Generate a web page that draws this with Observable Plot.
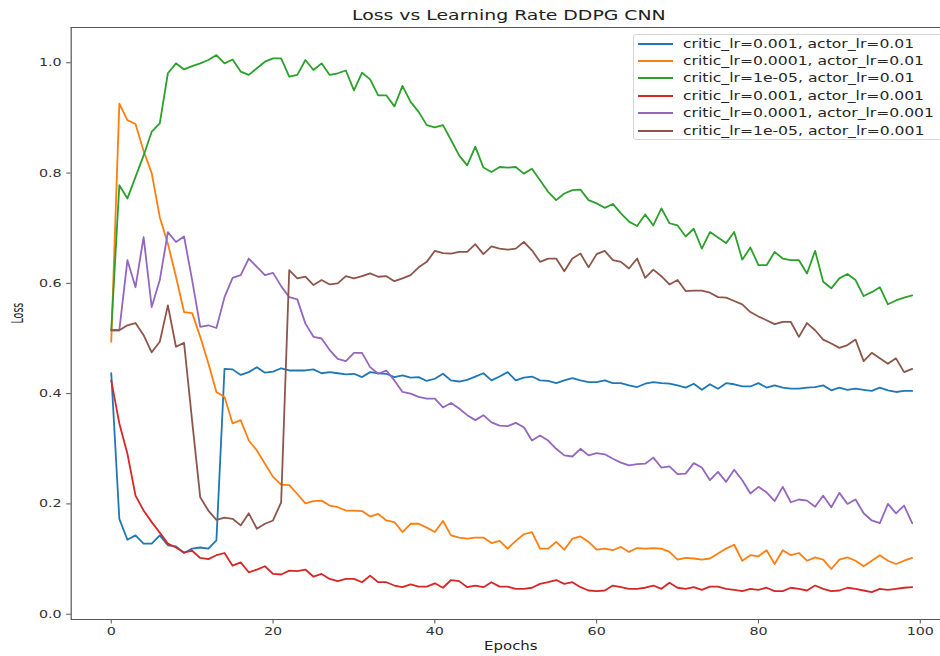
<!DOCTYPE html>
<html>
<head>
<meta charset="utf-8">
<script src="https://cdn.jsdelivr.net/npm/d3@7"></script>
<script src="https://cdn.jsdelivr.net/npm/@observablehq/plot@0.6"></script>
<style>
  html, body { margin: 0; padding: 0; background: #fff; overflow: hidden; }
  #wrap { position: relative; width: 940px; height: 656px; overflow: hidden; font-family: "DejaVu Sans", sans-serif; }
  #legend { position: absolute; left: 633px; top: 34px; width: 340px; height: 106px; box-sizing: border-box;
            border: 1px solid #d6d6d6; border-radius: 3px; background: rgba(255,255,255,0.85); padding-top: 0px; }
  .row { height: 17.4px; display: flex; align-items: center; }
  .sw { display: inline-block; width: 35px; height: 2px; margin-left: 4px; margin-right: 10px; flex: none; }
  .lab { font-size: 12px; color: #262626; white-space: nowrap; display: inline-block; transform: scaleX(1.3); transform-origin: left center; }
</style>
</head>
<body>
<div id="wrap"></div>
<script>
const epochs = d3.range(100);
const xTicks = [0, 20, 40, 60, 80, 100];
const yTicks = [0, 0.2, 0.4, 0.6, 0.8, 1.0];
const seriesNames = [
  "critic_lr=0.001, actor_lr=0.01",
  "critic_lr=0.0001, actor_lr=0.01",
  "critic_lr=1e-05, actor_lr=0.01",
  "critic_lr=0.001, actor_lr=0.001",
  "critic_lr=0.0001, actor_lr=0.001",
  "critic_lr=1e-05, actor_lr=0.001"
];
const seriesColors = ["#1f77b4", "#ff7f0e", "#2ca02c", "#d62728", "#9467bd", "#8c564b"];

const lossC001A01 = [0.437,0.173,0.135,0.143,0.128,0.128,0.143,0.125,0.123,0.111,
  0.119,0.121,0.119,0.134,0.445,0.444,0.434,0.439,0.448,0.438,
  0.440,0.446,0.442,0.442,0.442,0.444,0.437,0.439,0.437,0.435,
  0.436,0.430,0.439,0.437,0.436,0.430,0.433,0.429,0.430,0.423,
  0.427,0.436,0.424,0.422,0.425,0.431,0.437,0.424,0.431,0.439,
  0.424,0.429,0.431,0.424,0.423,0.419,0.424,0.428,0.424,0.421,
  0.421,0.424,0.419,0.419,0.415,0.412,0.418,0.421,0.419,0.418,
  0.415,0.411,0.418,0.407,0.417,0.409,0.419,0.417,0.413,0.413,
  0.419,0.411,0.415,0.411,0.409,0.409,0.411,0.412,0.415,0.406,
  0.411,0.407,0.409,0.407,0.405,0.411,0.406,0.403,0.405,0.405];
const lossC0001A01 = [0.494,0.926,0.896,0.889,0.840,0.800,0.720,0.672,0.612,0.548,
  0.546,0.503,0.455,0.403,0.394,0.346,0.352,0.315,0.297,0.273,
  0.249,0.235,0.234,0.218,0.201,0.205,0.206,0.197,0.194,0.188,
  0.188,0.187,0.177,0.182,0.170,0.167,0.149,0.164,0.164,0.157,
  0.149,0.169,0.143,0.139,0.137,0.139,0.139,0.129,0.133,0.119,
  0.133,0.145,0.149,0.119,0.119,0.131,0.117,0.137,0.141,0.131,
  0.117,0.119,0.116,0.122,0.113,0.120,0.119,0.120,0.119,0.113,
  0.099,0.102,0.101,0.099,0.101,0.110,0.119,0.126,0.097,0.107,
  0.105,0.116,0.091,0.116,0.107,0.111,0.097,0.103,0.099,0.082,
  0.099,0.103,0.097,0.087,0.097,0.107,0.097,0.091,0.097,0.102];
const lossC1e5A01 = [0.515,0.778,0.754,0.793,0.832,0.875,0.890,0.981,0.999,0.988,
  0.994,0.999,1.005,1.014,0.999,1.006,0.984,0.978,0.990,1.002,
  1.008,1.008,0.975,0.978,1.005,0.987,0.999,0.978,0.981,0.986,
  0.950,0.982,0.970,0.941,0.941,0.921,0.958,0.929,0.911,0.887,
  0.883,0.887,0.860,0.832,0.814,0.848,0.810,0.802,0.811,0.810,
  0.811,0.799,0.808,0.787,0.766,0.751,0.763,0.769,0.770,0.751,
  0.745,0.737,0.744,0.727,0.712,0.704,0.725,0.705,0.736,0.709,
  0.705,0.685,0.699,0.663,0.693,0.683,0.673,0.693,0.643,0.665,
  0.633,0.633,0.657,0.645,0.642,0.642,0.618,0.659,0.603,0.591,
  0.609,0.617,0.606,0.577,0.584,0.593,0.562,0.569,0.574,0.578];
const lossC001A001 = [0.424,0.346,0.291,0.215,0.188,0.167,0.148,0.128,0.121,0.112,
  0.115,0.102,0.100,0.107,0.111,0.088,0.094,0.076,0.081,0.087,
  0.073,0.072,0.079,0.078,0.081,0.068,0.073,0.064,0.060,0.064,
  0.064,0.058,0.070,0.058,0.058,0.052,0.049,0.054,0.050,0.050,
  0.056,0.048,0.062,0.060,0.049,0.052,0.049,0.058,0.050,0.050,
  0.046,0.046,0.048,0.055,0.058,0.062,0.055,0.058,0.049,0.043,
  0.042,0.043,0.052,0.049,0.046,0.046,0.048,0.052,0.046,0.057,
  0.048,0.046,0.049,0.044,0.050,0.050,0.046,0.044,0.042,0.046,
  0.044,0.048,0.042,0.042,0.048,0.046,0.043,0.052,0.046,0.042,
  0.043,0.048,0.046,0.043,0.040,0.046,0.044,0.046,0.048,0.049];
const lossC0001A001 = [0.515,0.515,0.642,0.593,0.684,0.557,0.606,0.693,0.675,0.685,
  0.606,0.521,0.524,0.519,0.575,0.610,0.615,0.645,0.630,0.615,
  0.619,0.595,0.575,0.571,0.527,0.503,0.500,0.479,0.463,0.459,
  0.474,0.474,0.448,0.436,0.442,0.424,0.403,0.400,0.394,0.391,
  0.391,0.375,0.383,0.373,0.361,0.352,0.361,0.348,0.342,0.341,
  0.347,0.339,0.315,0.324,0.315,0.300,0.288,0.286,0.300,0.288,
  0.292,0.290,0.282,0.275,0.270,0.272,0.273,0.284,0.266,0.268,
  0.254,0.255,0.274,0.266,0.243,0.258,0.240,0.262,0.243,0.219,
  0.231,0.221,0.205,0.231,0.203,0.208,0.206,0.195,0.215,0.194,
  0.220,0.200,0.208,0.183,0.170,0.165,0.200,0.183,0.197,0.165];
const lossC1e5A001 = [0.515,0.515,0.524,0.528,0.506,0.475,0.494,0.560,0.485,0.492,
  0.350,0.212,0.188,0.171,0.175,0.173,0.161,0.183,0.155,0.164,
  0.170,0.203,0.624,0.609,0.612,0.597,0.606,0.598,0.600,0.613,
  0.609,0.613,0.618,0.612,0.613,0.604,0.609,0.615,0.629,0.639,
  0.659,0.655,0.654,0.657,0.657,0.671,0.653,0.667,0.663,0.661,
  0.663,0.675,0.660,0.639,0.645,0.645,0.622,0.645,0.654,0.629,
  0.653,0.659,0.642,0.639,0.627,0.645,0.610,0.625,0.613,0.598,
  0.606,0.586,0.587,0.587,0.583,0.575,0.574,0.568,0.562,0.548,
  0.540,0.533,0.526,0.530,0.530,0.503,0.528,0.515,0.498,0.491,
  0.483,0.488,0.498,0.459,0.474,0.464,0.454,0.464,0.439,0.445];

const seriesValues = [lossC001A01, lossC0001A01, lossC1e5A01, lossC001A001, lossC0001A001, lossC1e5A001];
const data = seriesValues.flatMap((vals, i) => vals.map((v, e) => ({epoch: epochs[e], loss: v, series: seriesNames[i]})));

const xDomain = [-4.95, 102.5];
const yDomain = [-0.0096, 1.064];
const spine = "#555";

const chart = Plot.plot({
  width: 940,
  height: 656,
  marginLeft: 70.7,
  marginRight: 0,
  marginTop: 27,
  marginBottom: 37,
  style: {fontFamily: "DejaVu Sans, sans-serif", fontSize: "11px", color: "#333", background: "#fff", overflow: "visible"},
  x: {domain: xDomain},
  y: {domain: yDomain},
  color: {domain: seriesNames, range: seriesColors},
  marks: [
    Plot.axisX({ticks: xTicks, tickSize: 4.5, tickPadding: 3, label: null, stroke: spine, tickFormat: d => String(d)}),
    Plot.axisY({ticks: yTicks, tickSize: 4.5, tickPadding: 5, label: null, stroke: spine, tickFormat: d3.format(".1f")}),
    Plot.ruleX([xDomain[0]], {stroke: spine, strokeWidth: 1.2}),
    Plot.ruleY(yDomain, {stroke: spine, strokeWidth: 1.2}),
    Plot.lineY(data, {x: "epoch", y: "loss", stroke: "series", strokeWidth: 1.8}),
    Plot.text(["Loss vs Learning Rate DDPG CNN"], {frameAnchor: "top", dy: -8, dx: 3, lineAnchor: "bottom", fontSize: 14.5, fill: "#222"}),
    Plot.text(["Epochs"], {frameAnchor: "bottom", dy: 27, dx: 5, lineAnchor: "middle", fontSize: 11.5, fill: "#222"}),
    Plot.text(["Loss"], {frameAnchor: "left", dx: -53, rotate: -90, lineAnchor: "middle", fontSize: 15, fill: "#222"})
  ]
});

const wrap = document.getElementById("wrap");
wrap.appendChild(chart);

// horizontal stretch of text, as in the reference picture
const STRETCH = 1.3;
chart.querySelectorAll("text").forEach(t => {
  const len = t.getComputedTextLength();
  if (!len) return;
  const tr = t.getAttribute("transform") || "";
  const f = tr.includes("rotate") ? 0.63 : STRETCH;
  t.setAttribute("textLength", (len * f).toFixed(2));
  t.setAttribute("lengthAdjust", "spacingAndGlyphs");
});

// legend
const legend = document.createElement("div");
legend.id = "legend";
seriesNames.forEach((name, i) => {
  const row = document.createElement("div");
  row.className = "row";
  const sw = document.createElement("span");
  sw.className = "sw";
  sw.style.backgroundColor = seriesColors[i];
  const lab = document.createElement("span");
  lab.className = "lab";
  lab.textContent = name;
  row.appendChild(sw);
  row.appendChild(lab);
  legend.appendChild(row);
});
wrap.appendChild(legend);
</script>
</body>
</html>
